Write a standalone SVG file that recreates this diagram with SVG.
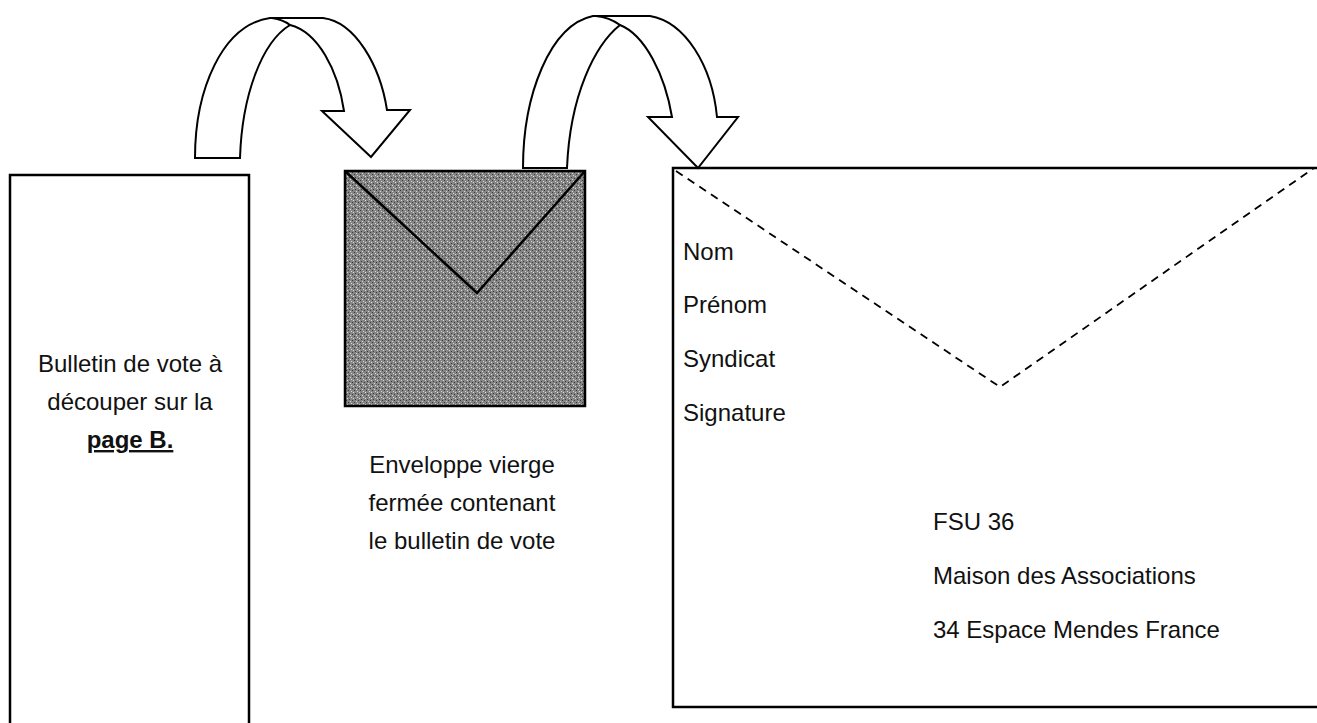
<svg xmlns="http://www.w3.org/2000/svg" width="1317" height="723" viewBox="0 0 1317 723">
<style>
  .box { fill: #ffffff; stroke: #000000; stroke-width: 2.5; }
  .env { fill: url(#halftone); stroke: #000000; stroke-width: 2.5; }
  .flap { fill: none; stroke: #000000; stroke-width: 2.5; }
  .dash { fill: none; stroke: #000000; stroke-width: 1.8; stroke-dasharray: 8 6; }
  .arrow { fill: #ffffff; stroke: #000000; stroke-width: 2; stroke-linejoin: miter; }
  .line { fill: none; stroke: #000000; stroke-width: 2; }
  text { font-family: "Liberation Sans", Arial, sans-serif; font-size: 24px; fill: #111111; }
  .c { text-anchor: middle; }
  .b { font-weight: bold; text-decoration: underline; }
</style>
<defs>
  <pattern id="halftone" width="6" height="6" patternUnits="userSpaceOnUse">
    <rect width="6" height="6" fill="#858585"/>
    <rect x="0" y="0" width="1" height="1" fill="#3a3a3a"/>
    <rect x="3" y="1" width="1" height="1" fill="#d8d8d8"/>
    <rect x="1" y="3" width="1" height="1" fill="#3a3a3a"/>
    <rect x="4" y="4" width="1" height="1" fill="#3a3a3a"/>
    <rect x="5" y="2" width="1" height="1" fill="#d8d8d8"/>
    <rect x="2" y="5" width="1" height="1" fill="#d8d8d8"/>
  </pattern>
</defs>
<rect width="1317" height="723" fill="#ffffff"/>

<g id="node-bulletin">
  <rect class="box" x="10" y="175" width="239" height="600"/>
  <text class="c" x="130" y="372">Bulletin de vote à</text>
  <text class="c" x="130" y="410">découper sur la</text>
  <text class="c b" x="130" y="448">page B.</text>
</g>

<g id="node-enveloppe">
  <rect class="env" x="345" y="171" width="240" height="235"/>
  <path class="flap" d="M345,171 L477,293 L585,171"/>
  <text class="c" x="462" y="473">Enveloppe vierge</text>
  <text class="c" x="462" y="511">fermée contenant</text>
  <text class="c" x="462" y="549">le bulletin de vote</text>
</g>

<g id="node-courrier">
  <rect class="box" x="673" y="168" width="700" height="539"/>
  <path class="dash" d="M676,171 L1000,387 L1314,168"/>
  <text x="683" y="260">Nom</text>
  <text x="683" y="313">Prénom</text>
  <text x="683" y="367">Syndicat</text>
  <text x="683" y="421">Signature</text>
  <text x="933" y="530">FSU 36</text>
  <text x="933" y="584">Maison des Associations</text>
  <text x="933" y="638">34 Espace Mendes France</text>
</g>

<g id="connectors">
  <g id="arrow-1">
    <path class="arrow" d="M195,158 C195,90 222,25 270,18 L323,18 C355,22 380,65 387,110 L410,110 L371,157 L322,111 L344,111 C338,70 318,32 290,25 C262,42 242,95 240,158 Z"/>
    <path class="line" d="M290,25 C285,21 279,19 272,18"/>
  </g>
  <g id="arrow-2">
    <path class="arrow" d="M523,168 C523,95 550,25 593,16 L650,16 C685,22 712,65 717,117 L738,117 L698,168 L648,117 L672,117 C665,75 645,35 620,25 C595,45 570,95 567,168 Z"/>
    <path class="line" d="M620,25 C613,20 606,17 596,16"/>
  </g>
</g>
</svg>
